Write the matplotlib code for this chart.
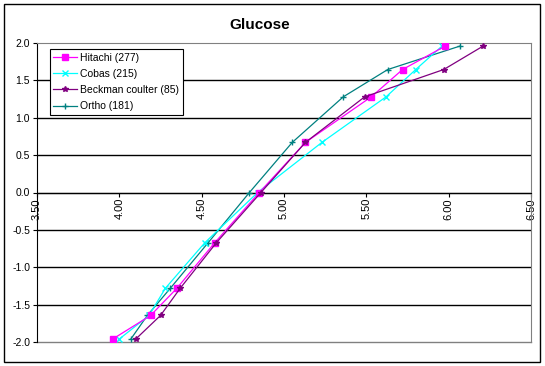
import numpy as np
import matplotlib
matplotlib.use("Agg")
import matplotlib.pyplot as plt
from matplotlib.patches import Rectangle

plt.rcParams['font.family'] = ['Liberation Sans', 'DejaVu Sans']

# z-scores (vertical axis), shared by all series
z = [-1.96, -1.645, -1.28, -0.67, 0.0, 0.67, 1.28, 1.645, 1.96]

hitachi = [3.96, 4.19, 4.35, 4.58, 4.85, 5.13, 5.53, 5.72, 5.98]
cobas = [4.00, 4.18, 4.28, 4.52, 4.84, 5.23, 5.62, 5.80, 5.96]
beckman = [4.10, 4.25, 4.37, 4.59, 4.86, 5.13, 5.49, 5.97, 6.21]
ortho = [4.07, 4.17, 4.31, 4.54, 4.79, 5.05, 5.36, 5.63, 6.07]

labels = ['Hitachi (277)', 'Cobas (215)', 'Beckman coulter (85)', 'Ortho (181)']
xticks = [3.5, 4.0, 4.5, 5.0, 5.5, 6.0, 6.5]
yticks = [-2.0, -1.5, -1.0, -0.5, 0.0, 0.5, 1.0, 1.5, 2.0]

fig = plt.figure(figsize=(5.45, 3.66), dpi=100)
ax = fig.add_axes([37/545, 24/366, 494/545, 299/366])

# outer chart border
fig.patches.append(Rectangle((4/545, 4/366), 536/545, 358/366, transform=fig.transFigure,
                             fill=False, edgecolor='black', linewidth=1.0))

# axis through y=0 (set first: it resets the ticks)
ax.spines['bottom'].set_position(('data', 0))
ax.spines['bottom'].set_color('black')
ax.spines['left'].set_color('black')
ax.spines['top'].set_color('#808080')
ax.spines['right'].set_color('#808080')

ax.plot(hitachi, z, color='#FF00FF', marker='s', markersize=5, lw=0.9, label=labels[0], zorder=5)
ax.plot(cobas, z, color='#00FFFF', marker='x', markersize=4, mew=1, lw=0.9, label=labels[1], zorder=4)
ax.plot(beckman, z, color='#800080', marker='*', markersize=4, lw=0.9, label=labels[2], zorder=6)
ax.plot(ortho, z, color='#008080', marker='+', markersize=5, mew=1, lw=0.9, label=labels[3], zorder=3)

ax.set_xlim(3.5, 6.5)
ax.set_ylim(-2.0, 2.0)
ax.set_xticks(xticks)
ax.set_yticks(yticks)
ax.set_xticklabels(['%.2f' % v for v in xticks], fontsize=8)
ax.set_yticklabels(['%.1f' % v for v in yticks], fontsize=7.5)
ax.tick_params(axis='x', direction='out', length=3, pad=1, labelrotation=90)
ax.tick_params(axis='y', direction='out', length=3, pad=2)

for y in yticks[1:-1]:
    ax.axhline(y, color='black', lw=1.0, zorder=1)
ax.axhline(-2.0, color='#808080', lw=1.0, clip_on=False)

fig.text(260/545, 1 - 25/366, 'Glucose', fontsize=11, fontweight='bold',
         ha='center', va='center')

leg = ax.legend(loc='upper left', bbox_to_anchor=(0.026, 0.98), fontsize=7.5, frameon=True,
                fancybox=False, edgecolor='black', framealpha=1, handlelength=2.3,
                borderpad=0.35, labelspacing=0.6, handletextpad=0.25, borderaxespad=0)
leg.get_frame().set_linewidth(0.8)

fig.savefig('out.png', dpi=100)
